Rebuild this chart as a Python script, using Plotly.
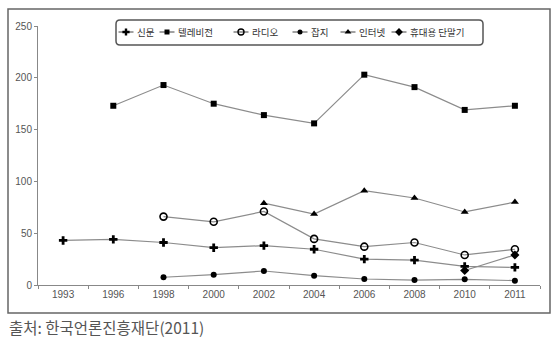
import plotly.graph_objects as go

years = ["1993", "1996", "1998", "2000", "2002", "2004", "2006", "2008", "2010", "2011"]
newspaper = [43, 44, 41, 36, 38, 34.5, 25, 24, 18, 17]
television = [None, 173, 193, 175, 164, 156, 203, 191, 169, 173]
radio = [None, None, 66, 61, 71, 44.5, 37, 41, 29, 34.5]
magazine = [None, None, 7.5, 10, 13.5, 9, 5.8, 4.8, 5.5, 4.2]
internet = [None, None, None, None, 79, 68.5, 91, 84, 70.5, 80]
mobile = [None, None, None, None, None, None, None, None, 14, 29]

names = ["신문", "텔레비전", "라디오", "잡지", "인터넷", "휴대용 단말기"]
series = [newspaper, television, radio, magazine, internet, mobile]
markers = [
    dict(symbol="cross", size=7, color="black"),
    dict(symbol="square", size=6, color="black"),
    dict(symbol="circle-open", size=7, color="black", line=dict(width=1.6, color="black")),
    dict(symbol="circle", size=6, color="black"),
    dict(symbol="triangle-up", size=7, color="black"),
    dict(symbol="diamond", size=7, color="black"),
]
small_markers = [
    dict(symbol="cross", size=6, color="black"),
    dict(symbol="square", size=5, color="black"),
    dict(symbol="circle-open", size=6, color="black", line=dict(width=1.4, color="black")),
    dict(symbol="circle", size=5, color="black"),
    dict(symbol="triangle-up", size=6, color="black"),
    dict(symbol="diamond", size=6, color="black"),
]

W, H = 560, 351
L, R, T, B = 38, 20, 26, 66
pw, ph = W - L - R, H - T - B

# legend layout (pixel positions of symbol centres)
leg_cx = [126, 167, 241, 300, 348, 399]
leg_cy = 32

fig = go.Figure()
for n, s, m in zip(names, series, markers):
    fig.add_trace(go.Scatter(
        x=years, y=s, name=n, mode="lines+markers",
        line=dict(color="#8c8c8c", width=1.2),
        marker=m, showlegend=False,
    ))

annotations = []
for n, cx, m in zip(names, leg_cx, small_markers):
    fig.add_trace(go.Scatter(
        x=[cx - 7.5, cx + 7.5], y=[leg_cy, leg_cy], mode="lines",
        line=dict(color="#444", width=1), xaxis="x2", yaxis="y2",
        showlegend=False, hoverinfo="skip",
    ))
    fig.add_trace(go.Scatter(
        x=[cx], y=[leg_cy], mode="markers", marker=m,
        xaxis="x2", yaxis="y2", showlegend=False, hoverinfo="skip",
    ))
    annotations.append(dict(
        text=n, xref="x2", yref="y2", x=cx + 9, y=leg_cy,
        xanchor="left", yanchor="middle", showarrow=False,
        font=dict(size=9.5, color="#333", family="Noto Sans CJK KR, sans-serif"),
    ))

def px(x):
    return (x - L) / pw

def py(y):
    return (H - B - y) / ph

annotations.append(dict(
    text="출처: 한국언론진흥재단(2011)", xref="paper", yref="paper",
    x=px(7), y=py(327), xanchor="left", yanchor="middle", showarrow=False,
    font=dict(size=15.5, color="#555", family="Noto Sans CJK KR, sans-serif")))

tickfont = dict(size=10, color="#555", family="Liberation Sans, Arial, sans-serif")
fig.update_layout(
    width=W, height=H,
    margin=dict(l=L, r=R, t=T, b=B),
    plot_bgcolor="white", paper_bgcolor="white",
    font=dict(family="Noto Sans CJK KR, Noto Sans, sans-serif", size=9, color="#333"),
    showlegend=False,
    xaxis=dict(
        type="category", range=[-0.5, 9.5],
        showline=True, linecolor="#888", linewidth=1,
        ticks="outside", tickson="boundaries", ticklen=3, tickcolor="#888",
        showgrid=False, zeroline=False, tickfont=tickfont,
    ),
    yaxis=dict(
        range=[0, 250], dtick=50,
        showline=True, linecolor="#888", linewidth=1,
        ticks="outside", ticklen=3, tickcolor="#888",
        showgrid=False, zeroline=False, tickfont=tickfont,
    ),
    xaxis2=dict(overlaying="x", range=[L, W - R], visible=False, fixedrange=True),
    yaxis2=dict(overlaying="y", range=[H - B, T], visible=False, fixedrange=True),
    shapes=[
        dict(type="rect", xref="paper", yref="paper",
             x0=px(8), x1=px(550), y0=py(313), y1=py(9),
             line=dict(color="#666", width=1.5), fillcolor="rgba(0,0,0,0)", layer="below"),
    ],
    annotations=annotations,
)

# rounded legend box
x0, x1, y0, y1 = px(116), px(483), py(45), py(20)
rx = 4 / pw
ry = 4 / ph
path = (f"M {x0+rx},{y1} L {x1-rx},{y1} Q {x1},{y1} {x1},{y1-ry} "
        f"L {x1},{y0+ry} Q {x1},{y0} {x1-rx},{y0} L {x0+rx},{y0} "
        f"Q {x0},{y0} {x0},{y0+ry} L {x0},{y1-ry} Q {x0},{y1} {x0+rx},{y1} Z")
fig.add_shape(type="path", xref="paper", yref="paper", path=path,
              line=dict(color="#555", width=1.5), fillcolor="rgba(0,0,0,0)")

fig.write_html("out.html")
